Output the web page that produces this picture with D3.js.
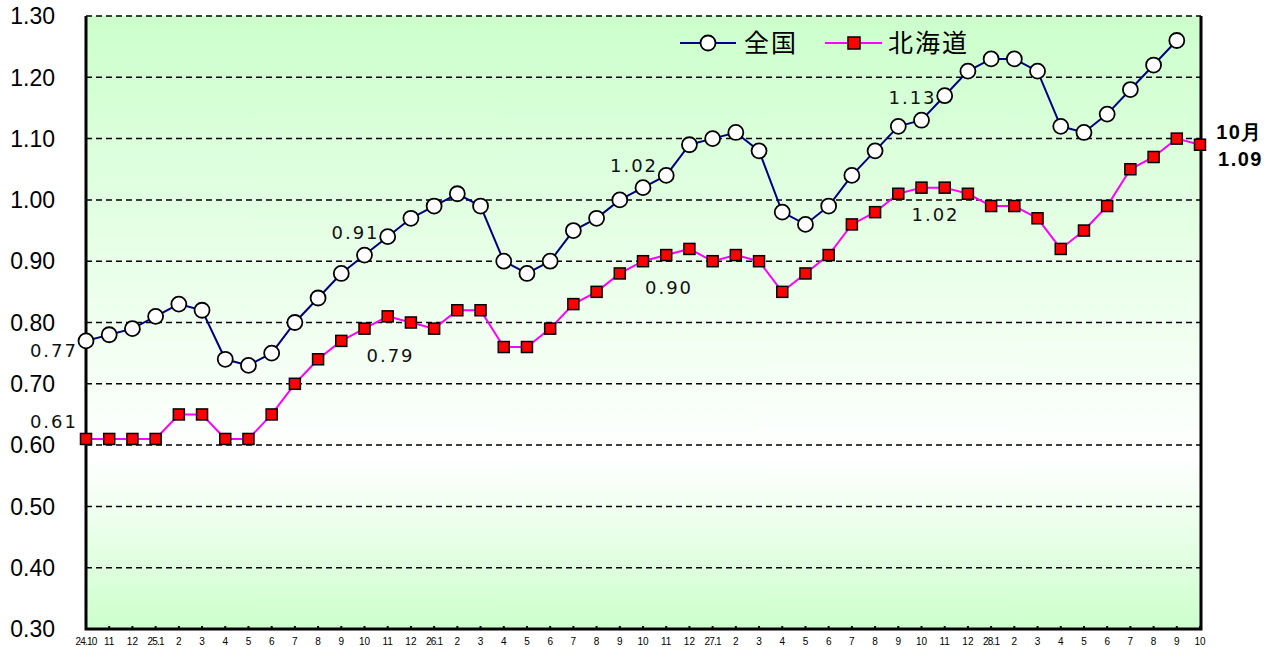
<!DOCTYPE html>
<html>
<head>
<meta charset="utf-8">
<script src="https://cdn.jsdelivr.net/npm/d3@7"></script>
<style>
	body { margin: 0; background: #fff; }
	svg { display: block; }
</style>
</head>
<body>
<div id="chart"></div>
<script>
var width = 1271,
	height = 647;

// x categories (年.月)
var months = ["24.10","11","12","25.1","2","3","4","5","6","7","8","9","10","11","12",
	"26.1","2","3","4","5","6","7","8","9","10","11","12",
	"27.1","2","3","4","5","6","7","8","9","10","11","12",
	"28.1","2","3","4","5","6","7","8","9","10"];

// 全国 (no value yet for the last month)
var zenkoku = [0.77,0.78,0.79,0.81,0.83,0.82,0.74,0.73,0.75,0.80,0.84,0.88,0.91,0.94,0.97,
	0.99,1.01,0.99,0.90,0.88,0.90,0.95,0.97,1.00,1.02,1.04,1.09,
	1.10,1.11,1.08,0.98,0.96,0.99,1.04,1.08,1.12,1.13,1.17,1.21,
	1.23,1.23,1.21,1.12,1.11,1.14,1.18,1.22,1.26];

// 北海道
var hokkaido = [0.61,0.61,0.61,0.61,0.65,0.65,0.61,0.61,0.65,0.70,0.74,0.77,0.79,0.81,0.80,
	0.79,0.82,0.82,0.76,0.76,0.79,0.83,0.85,0.88,0.90,0.91,0.92,
	0.90,0.91,0.90,0.85,0.88,0.91,0.96,0.98,1.01,1.02,1.02,1.01,
	0.99,0.99,0.97,0.92,0.95,0.99,1.05,1.07,1.10,1.09];

var yTicks = [0.30,0.40,0.50,0.60,0.70,0.80,0.90,1.00,1.10,1.20,1.30];

// value labels: [index, text]
var zLabels = [[0,"0.77"],[12,"0.91"],[24,"1.02"],[36,"1.13"]];
var hLabels = [[0,"0.61"],[12,"0.79"],[24,"0.90"],[36,"1.02"]];

var plot = {left: 86, right: 1201, top: 16, bottom: 629};

var svg = d3.select("#chart")
	.append("svg")
	.attr("width", width)
	.attr("height", height);

// background gradient
var grad = svg.append("defs").append("linearGradient")
	.attr("id", "bg")
	.attr("x1", 0).attr("y1", 0).attr("x2", 0).attr("y2", 1);
grad.append("stop").attr("offset", "0%").attr("stop-color", "#ccffcc");
grad.append("stop").attr("offset", "72%").attr("stop-color", "#ffffff");
grad.append("stop").attr("offset", "100%").attr("stop-color", "#ccffcc");

var x = d3.scalePoint()
	.domain(d3.range(months.length))
	.range([plot.left, plot.right - 1]);

var y = d3.scaleLinear()
	.domain([0.30, 1.30])
	.range([plot.bottom, plot.top]);

svg.append("rect")
	.attr("x", plot.left)
	.attr("y", plot.top)
	.attr("width", plot.right - plot.left)
	.attr("height", plot.bottom - plot.top)
	.attr("fill", "url(#bg)");

// gridlines
svg.append("g").selectAll("line")
	.data(yTicks.filter(function(d){ return d > 0.3; }))
	.enter()
	.append("line")
	.attr("x1", plot.left)
	.attr("x2", plot.right)
	.attr("y1", function(d){ return y(d); })
	.attr("y2", function(d){ return y(d); })
	.attr("stroke", "#000")
	.attr("stroke-width", 1.5)
	.attr("stroke-dasharray", "6,4");

// y axis labels
svg.append("g").selectAll("text")
	.data(yTicks)
	.enter()
	.append("text")
	.attr("x", 55)
	.attr("y", function(d){ return y(d); })
	.attr("dy", "0.36em")
	.attr("text-anchor", "end")
	.attr("font-family", "Liberation Sans, Arial, sans-serif")
	.attr("font-size", 23)
	.attr("fill", "#000")
	.text(function(d){ return d.toFixed(2); });

// x ticks + labels
var xg = svg.append("g");
xg.selectAll("line")
	.data(d3.range(months.length))
	.enter()
	.append("line")
	.attr("x1", function(d){ return x(d); })
	.attr("x2", function(d){ return x(d); })
	.attr("y1", plot.bottom)
	.attr("y2", plot.bottom - 3)
	.attr("stroke", "#000")
	.attr("stroke-width", 2);
xg.selectAll("text")
	.data(months)
	.enter()
	.append("text")
	.attr("x", function(d, i){ return x(i); })
	.attr("y", 645)
	.attr("text-anchor", "middle")
	.attr("font-family", "Liberation Sans, Arial, sans-serif")
	.attr("font-size", 10)
	.attr("letter-spacing", function(d){ return d.indexOf(".") >= 0 ? -0.8 : 0; })
	.attr("fill", "#000")
	.text(function(d){ return d; });

// frame
svg.append("path")
	.attr("d", "M" + plot.left + "," + plot.top + "V" + plot.bottom + "H" + plot.right + "V" + plot.top)
	.attr("fill", "none")
	.attr("stroke", "#000")
	.attr("stroke-width", 3);

var line = d3.line()
	.x(function(d, i){ return x(i); })
	.y(function(d){ return y(d); });

// 北海道
svg.append("path")
	.attr("d", line(hokkaido))
	.attr("fill", "none")
	.attr("stroke", "#ff00ff")
	.attr("stroke-width", 2);
svg.append("g").selectAll("rect")
	.data(hokkaido)
	.enter()
	.append("rect")
	.attr("x", function(d, i){ return x(i) - 5.5; })
	.attr("y", function(d){ return y(d) - 5.5; })
	.attr("width", 11)
	.attr("height", 11)
	.attr("fill", "#ff0000")
	.attr("stroke", "#000")
	.attr("stroke-width", 1.5);

// 全国
svg.append("path")
	.attr("d", line(zenkoku))
	.attr("fill", "none")
	.attr("stroke", "#000080")
	.attr("stroke-width", 2);
svg.append("g").selectAll("circle")
	.data(zenkoku)
	.enter()
	.append("circle")
	.attr("cx", function(d, i){ return x(i); })
	.attr("cy", function(d){ return y(d); })
	.attr("r", 7.5)
	.attr("fill", "#fff")
	.attr("stroke", "#000")
	.attr("stroke-width", 1.8);

// value labels
var lab = svg.append("g")
	.attr("font-family", "DejaVu Sans, sans-serif")
	.attr("font-size", 18)
	.attr("letter-spacing", 2)
	.attr("fill", "#111");
// 全国: first one left-below, others above-left
lab.selectAll("text.z")
	.data(zLabels)
	.enter()
	.append("text")
	.attr("class", "z")
	.attr("x", function(d){ return d[0] === 0 ? x(d[0]) - 8 : x(d[0]) - 9; })
	.attr("y", function(d){ return d[0] === 0 ? y(zenkoku[d[0]]) + 16 : y(zenkoku[d[0]]) - 16; })
	.attr("text-anchor", function(d){ return d[0] === 0 ? "end" : "middle"; })
	.text(function(d){ return d[1]; });
// 北海道: first one above-left, others below-right
lab.selectAll("text.h")
	.data(hLabels)
	.enter()
	.append("text")
	.attr("class", "h")
	.attr("x", function(d){ return d[0] === 0 ? x(d[0]) - 8 : x(d[0]) + (d[0] === 36 ? 14 : 26); })
	.attr("y", function(d){ return d[0] === 0 ? y(hokkaido[d[0]]) - 11 : y(hokkaido[d[0]]) + 33; })
	.attr("text-anchor", function(d){ return d[0] === 0 ? "end" : "middle"; })
	.text(function(d){ return d[1]; });

// latest month annotation
var last = hokkaido.length - 1;
var ann = svg.append("g")
	.attr("font-family", "Liberation Sans, Arial, sans-serif")
	.attr("font-weight", "bold")
	.attr("font-size", 20)
	.attr("letter-spacing", 1.5)
	.attr("text-anchor", "end")
	.attr("fill", "#000");
ann.append("text")
	.attr("x", 1263)
	.attr("y", 139)
	.text(months[last] + "月");
ann.append("text")
	.attr("x", 1263)
	.attr("y", 166)
	.text(hokkaido[last].toFixed(2));

// legend
var leg = svg.append("g");
leg.append("line")
	.attr("x1", 680).attr("x2", 736)
	.attr("y1", 43).attr("y2", 43)
	.attr("stroke", "#000080").attr("stroke-width", 2);
leg.append("circle")
	.attr("cx", 708).attr("cy", 43).attr("r", 7.5)
	.attr("fill", "#fff").attr("stroke", "#000").attr("stroke-width", 1.8);
leg.append("text")
	.attr("x", 744).attr("y", 52)
	.attr("font-family", "Noto Sans CJK JP, sans-serif")
	.attr("font-size", 25)
	.attr("letter-spacing", 2)
	.text("全国");
leg.append("line")
	.attr("x1", 825).attr("x2", 882)
	.attr("y1", 43).attr("y2", 43)
	.attr("stroke", "#ff00ff").attr("stroke-width", 2);
leg.append("rect")
	.attr("x", 848).attr("y", 37).attr("width", 12).attr("height", 12)
	.attr("fill", "#ff0000").attr("stroke", "#000").attr("stroke-width", 1.5);
leg.append("text")
	.attr("x", 888).attr("y", 52)
	.attr("font-family", "Noto Sans CJK JP, sans-serif")
	.attr("font-size", 25)
	.attr("letter-spacing", 2)
	.text("北海道");
</script>
</body>
</html>
